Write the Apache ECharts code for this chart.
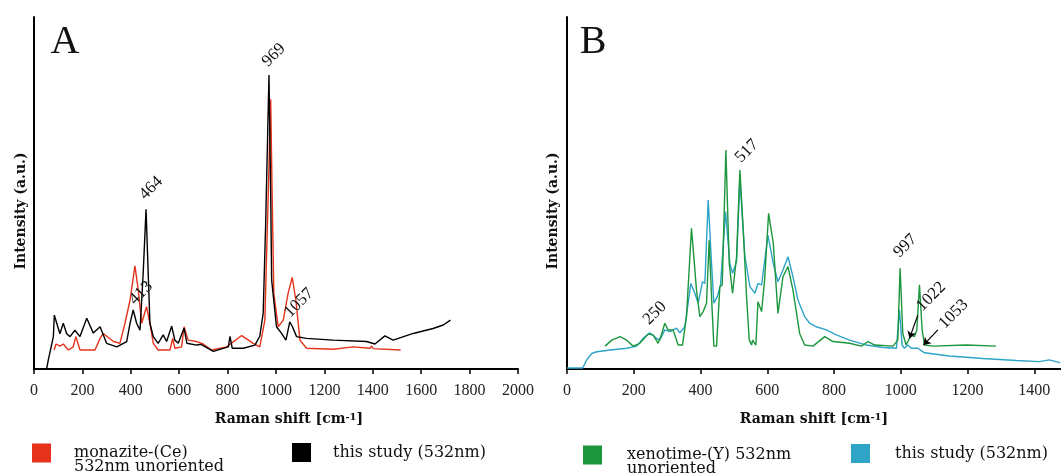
<!DOCTYPE html>
<html>
<head>
<meta charset="utf-8">
<script src="https://cdn.jsdelivr.net/npm/echarts@6/dist/echarts.min.js"></script>
<style>
html, body { margin: 0; padding: 0; background: #fff; }
#main { width: 1061px; height: 473px; }
</style>
</head>
<body>
<div id="main"></div>
<script>
// Raman spectra, [shift cm-1, intensity a.u.]
const monazite = [[83,5.4],[91,7.1],[107,6.5],[121,7.1],[142,5.4],[162,6.3],[173,9.2],[190,5.4],[252,5.4],[273,8.7],[286,10.1],[328,7.8],[355,7.3],[376,13],[397,19.6],[417,29.3],[431,22.4],[445,13],[465,17.7],[479,13],[493,7.3],[513,5.4],[562,5.4],[573,8.7],[582,5.9],[610,6.3],[620,12],[637,8.2],[672,7.8],[699,7.1],[734,5.4],[796,6.3],[858,9.5],[906,7.3],[933,6.3],[954,13.9],[968,49.9],[978,76.6],[984,49.9],[991,21.5],[1009,12],[1030,13.9],[1050,21.5],[1067,26],[1082,19.6],[1099,8.2],[1126,5.9],[1236,5.6],[1319,6.3],[1388,5.9],[1395,6.5],[1402,5.8],[1515,5.4]];
const studyA = [[52,0],[59,2.5],[80,9.2],[84,15.3],[94,13],[107,10],[121,13],[135,10],[149,9.2],[169,11],[190,9.2],[218,14.4],[245,10.2],[273,12],[300,7.3],[342,6.3],[383,7.8],[397,13],[410,16.8],[424,13],[438,11],[451,27],[463,45.4],[472,27],[479,13],[493,9.2],[513,7.3],[534,9.7],[548,7.8],[569,12.2],[582,8.2],[596,7.3],[620,11.6],[632,7.3],[672,6.8],[690,7],[741,5],[803,6.3],[810,9.3],[819,5.9],[865,5.9],[913,6.8],[933,9.3],[947,15.8],[957,40.4],[971,83.5],[978,49.9],[982,25.3],[988,24.8],[1002,12],[1023,10.1],[1041,8.2],[1057,13.4],[1068,12],[1085,9.2],[1126,8.7],[1236,8.2],[1374,7.8],[1409,7.1],[1450,9.4],[1484,8.2],[1567,10.1],[1649,11.5],[1691,12.5],[1721,13.9]];
const xenotime = [[114,6.5],[134,8.2],[159,9.2],[179,8.2],[198,6.5],[218,7.3],[243,9.9],[258,9.7],[273,7.3],[283,9.7],[293,13],[303,11.1],[318,11.1],[333,6.8],[346,6.8],[358,14.9],[373,40],[388,22.4],[398,14.9],[408,16.3],[418,18.7],[426,36.6],[433,20.5],[440,6.5],[448,6.5],[458,23.4],[465,23.9],[476,62.2],[486,30],[496,21.5],[508,31.9],[518,56.5],[528,39.5],[538,20.5],[546,8.2],[553,6.8],[556,8.2],[566,6.8],[572,19.1],[583,16.3],[592,25.3],[604,44.2],[618,35.7],[632,15.8],[647,26.2],[662,29.1],[677,22.4],[697,10.1],[712,6.8],[737,6.5],[772,9.2],[797,7.8],[847,7.3],[882,6.5],[902,7.8],[922,6.8],[977,6.5],[991,8.2],[998,28.6],[1006,10.1],[1016,6.8],[1031,9.7],[1041,9.2],[1048,11.1],[1056,23.9],[1064,11.1],[1071,6.8],[1096,6.5],[1196,6.8],[1285,6.5]];
const studyB = [[0,0.3],[47,0.3],[49,0.7],[59,2.6],[74,4.4],[89,4.9],[129,5.4],[179,5.9],[209,6.5],[228,8.7],[248,10.3],[268,8.7],[278,8.2],[293,11.1],[308,10.6],[328,11.6],[338,10.3],[353,12],[363,18.7],[371,24.3],[383,21.5],[393,18.7],[406,24.8],[413,24.3],[423,48],[433,30],[440,18.7],[450,20.5],[460,23.9],[475,44.7],[488,30],[496,27.2],[508,30.5],[518,54],[533,31.9],[548,23.4],[563,21.5],[572,24.3],[583,23.9],[602,38],[618,30],[632,24.8],[647,28.1],[662,31.9],[677,26.2],[692,19.6],[712,14.9],[727,13],[747,12],[777,11.1],[807,9.7],[847,8.2],[897,6.8],[947,6.1],[987,5.9],[996,16.8],[1004,6.8],[1011,5.9],[1021,6.8],[1031,5.9],[1051,5.9],[1071,4.6],[1146,3.7],[1246,3],[1346,2.4],[1415,2.1],[1445,2.6],[1465,2.1],[1478,1.8]];

// peak labels: text, shift, intensity (where the label sits)
const peaksA = [['969', 991, 89.2], ['464', 484, 51.4], ['413', 442, 21.6], ['1057', 1095, 18.8]];
const peaksB = [['517', 539, 61.9], ['250', 263, 15.9], ['997', 1014, 35], ['1022', 1091, 20.6], ['1053', 1158, 15.6]];
const arrowsB = [[[1051, 15.3], [1026, 8.7]], [[1111, 11.1], [1068, 6.8]]];

// leading newline keeps the first line level with the legend square
const legendNames = {
  monazite: '\nmonazite-(Ce)\n532nm unoriented',
  studyA: 'this study (532nm)',
  xenotime: '\nxenotime-(Y) 532nm\nunoriented',
  studyB: 'this study (532nm)'
};

const serif = '"Liberation Serif", serif';
const wideSerif = '"DejaVu Serif", serif';
const chart = echarts.init(document.getElementById('main'));

function xAxisOf(gridIndex, max, namePad) {
  return {
    type: 'value', gridIndex: gridIndex, min: 0, max: max, interval: 200,
    name: 'Raman shift [cm{sup|-1}]', nameLocation: 'middle', nameGap: 43,
    nameTextStyle: {
      fontFamily: wideSerif, fontWeight: 'bold', fontSize: 14, color: '#111',
      padding: namePad,
      rich: { sup: { fontFamily: wideSerif, fontWeight: 'bold', fontSize: 10, verticalAlign: 'top', color: '#111' } }
    },
    splitLine: { show: false },
    axisLine: { lineStyle: { color: '#000', width: 2 } },
    axisTick: { length: 5, lineStyle: { color: '#000', width: 1.5 } },
    axisLabel: {
      fontFamily: serif, fontSize: 16, color: '#222', margin: 14,
      showMaxLabel: max % 200 === 0,
      formatter: function (v) { return String(v); }
    }
  };
}
function yAxisOf(gridIndex) {
  return {
    type: 'value', gridIndex: gridIndex, min: 0, max: 100,
    splitLine: { show: false },
    axisLine: { show: true, lineStyle: { color: '#000', width: 2 } },
    axisTick: { show: false },
    axisLabel: { show: false }
  };
}
function line(name, data, color, idx) {
  return {
    name: name, type: 'line', data: data, xAxisIndex: idx, yAxisIndex: idx,
    showSymbol: false, symbol: 'none', lineStyle: { color: color, width: 1.4 },
    itemStyle: { color: color }, animation: false
  };
}
function legendOf(name, left, top, gap) {
  return {
    data: [name], left: left, top: top, padding: 0, icon: 'rect', itemWidth: 19, itemHeight: 19,
    selectedMode: false,
    formatter: function (n) { return legendNames[n]; },
    textStyle: {
      fontFamily: wideSerif, fontSize: 16, color: '#111', lineHeight: 14,
      padding: [0, 0, 0, gap]
    }
  };
}

const blackSeries = line('studyA', studyA, '#000000', 0);
const redSeries = line('monazite', monazite, '#e5331b', 0);
const blueSeries = line('studyB', studyB, '#2ea4c7', 1);
const greenSeries = line('xenotime', xenotime, '#1b963c', 1);
greenSeries.markLine = {
  silent: true, symbol: ['none', 'arrow'], symbolSize: 7, animation: false,
  label: { show: false },
  lineStyle: { color: '#000', width: 1.2, type: 'solid' },
  data: arrowsB.map(a => [{ coord: a[0] }, { coord: a[1] }])
};

chart.setOption({
  animation: false,
  grid: [
    { left: 34, right: 543, top: 17, bottom: 104 },
    { left: 567, right: 0, top: 17, bottom: 104 }
  ],
  xAxis: [xAxisOf(0, 2000, [0, 0, 0, 26]), xAxisOf(1, 1480, 0)],
  yAxis: [yAxisOf(0), yAxisOf(1)],
  legend: [
    legendOf('monazite', 32, 431, 18),
    legendOf('studyA', 292, 443, 17),
    legendOf('xenotime', 583, 433, 20),
    legendOf('studyB', 851, 444, 20)
  ],
  series: [redSeries, blackSeries, blueSeries, greenSeries]
});

function peakText(p, gridIndex) {
  const pt = chart.convertToPixel({ gridIndex: gridIndex }, [p[1], p[2]]);
  return {
    type: 'text', x: pt[0], y: pt[1], rotation: Math.PI / 4, z: 100,
    style: { text: p[0], font: '17px ' + serif, fill: '#111', align: 'center', verticalAlign: 'middle' }
  };
}
function plainText(text, x, y, font, rotation) {
  return {
    type: 'text', x: x, y: y, rotation: rotation || 0, z: 100,
    style: { text: text, font: font, fill: '#111', align: 'center', verticalAlign: 'middle' }
  };
}

chart.setOption({
  graphic: [
    plainText('A', 65, 42, '40px ' + serif),
    plainText('B', 593, 42, '40px ' + serif),
    plainText('Intensity (a.u.)', 21, 211, 'bold 14px ' + wideSerif, Math.PI / 2),
    plainText('Intensity (a.u.)', 553, 211, 'bold 14px ' + wideSerif, Math.PI / 2)
  ].concat(peaksA.map(p => peakText(p, 0)), peaksB.map(p => peakText(p, 1)))
});
</script>
</body>
</html>
